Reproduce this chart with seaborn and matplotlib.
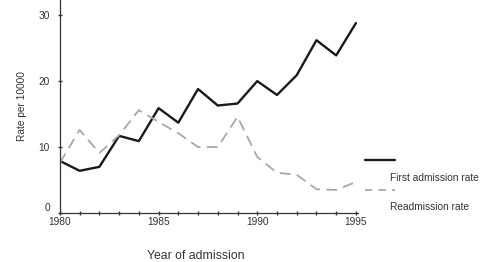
import numpy as np
import pandas as pd
import matplotlib
matplotlib.use("Agg")
import matplotlib.pyplot as plt
import seaborn as sns
from matplotlib.lines import Line2D

# =========================================================
# DATA
# =========================================================
years = list(range(1980, 1996))

first_admission = [7.9, 6.4, 7.0, 11.7, 10.9, 15.9, 13.7, 18.8,
                   16.3, 16.6, 20.0, 17.9, 20.9, 26.2, 23.9, 28.8]

readmission = [7.6, 12.6, 9.1, 11.8, 15.6, 13.8, 12.1, 10.0,
               10.0, 14.6, 8.5, 6.1, 5.8, 3.6, 3.5, 4.7]

series_names = ["First admission rate", "Readmission rate"]

df = pd.DataFrame({
    "year": years * 2,
    "rate": first_admission + readmission,
    "series": [series_names[0]] * len(years) + [series_names[1]] * len(years),
})

# =========================================================
# PLOT
# =========================================================
sns.set_style("ticks")
plt.rcParams["font.family"] = ["Liberation Sans", "DejaVu Sans"]

fig = plt.figure(figsize=(4.83, 2.62), dpi=100)
ax = fig.add_axes([0.124, 0.187, 0.617, 0.813])

palette = {series_names[0]: "#1a1a1a", series_names[1]: "#a8a8a8"}

sns.lineplot(
    data=df[df["series"] == series_names[0]],
    x="year", y="rate",
    color=palette[series_names[0]],
    linewidth=1.7,
    ax=ax,
    legend=False,
)
sns.lineplot(
    data=df[df["series"] == series_names[1]],
    x="year", y="rate",
    color=palette[series_names[1]],
    linewidth=1.3,
    ax=ax,
    legend=False,
)
ax.lines[1].set_dashes([6, 3.5])

ax.set_xlim(1980, 1995.1)
ax.set_ylim(0, 32.3)
ax.set_xticks([1980, 1985, 1990, 1995])
ax.set_xticks(years, minor=True)
ax.set_yticks([0, 10, 20, 30])

for s in ["top", "right"]:
    ax.spines[s].set_visible(False)
for s in ["left", "bottom"]:
    ax.spines[s].set_color("#333333")
    ax.spines[s].set_linewidth(0.9)

ax.tick_params(axis="both", which="major", labelsize=7.3, colors="#333333",
               length=2.5, width=1.0, direction="inout")
ax.tick_params(axis="x", which="major", pad=1.5)
ax.tick_params(axis="y", which="major", pad=6)
ax.tick_params(axis="x", which="minor", length=2.5, width=1.0,
               direction="inout", color="#333333")

# the zero label sits a little above the axis line in the original
ax.get_yticklabels()[0].set_verticalalignment("bottom")

ax.set_xlabel("Year of admission", fontsize=8.8, color="#333333")
ax.xaxis.set_label_coords(0.455, -0.175)
ax.set_ylabel("Rate per 10000", fontsize=7.3, color="#333333", labelpad=8)

# legend drawn by hand: sample line above each label
fig.add_artist(Line2D([365 / 483, 395 / 483], [1 - 160 / 262, 1 - 160 / 262],
                      color=palette[series_names[0]], linewidth=1.7))
fig.text(390 / 483, 1 - 178 / 262, series_names[0], fontsize=7.3,
         color="#333333", va="center", ha="left")
fig.add_artist(Line2D([365 / 483, 395 / 483], [1 - 190 / 262, 1 - 190 / 262],
                      color=palette[series_names[1]], linewidth=1.3,
                      dashes=[4, 3.5]))
fig.text(390 / 483, 1 - 207 / 262, series_names[1], fontsize=7.3,
         color="#333333", va="center", ha="left")

fig.savefig("out.png", dpi=100)
